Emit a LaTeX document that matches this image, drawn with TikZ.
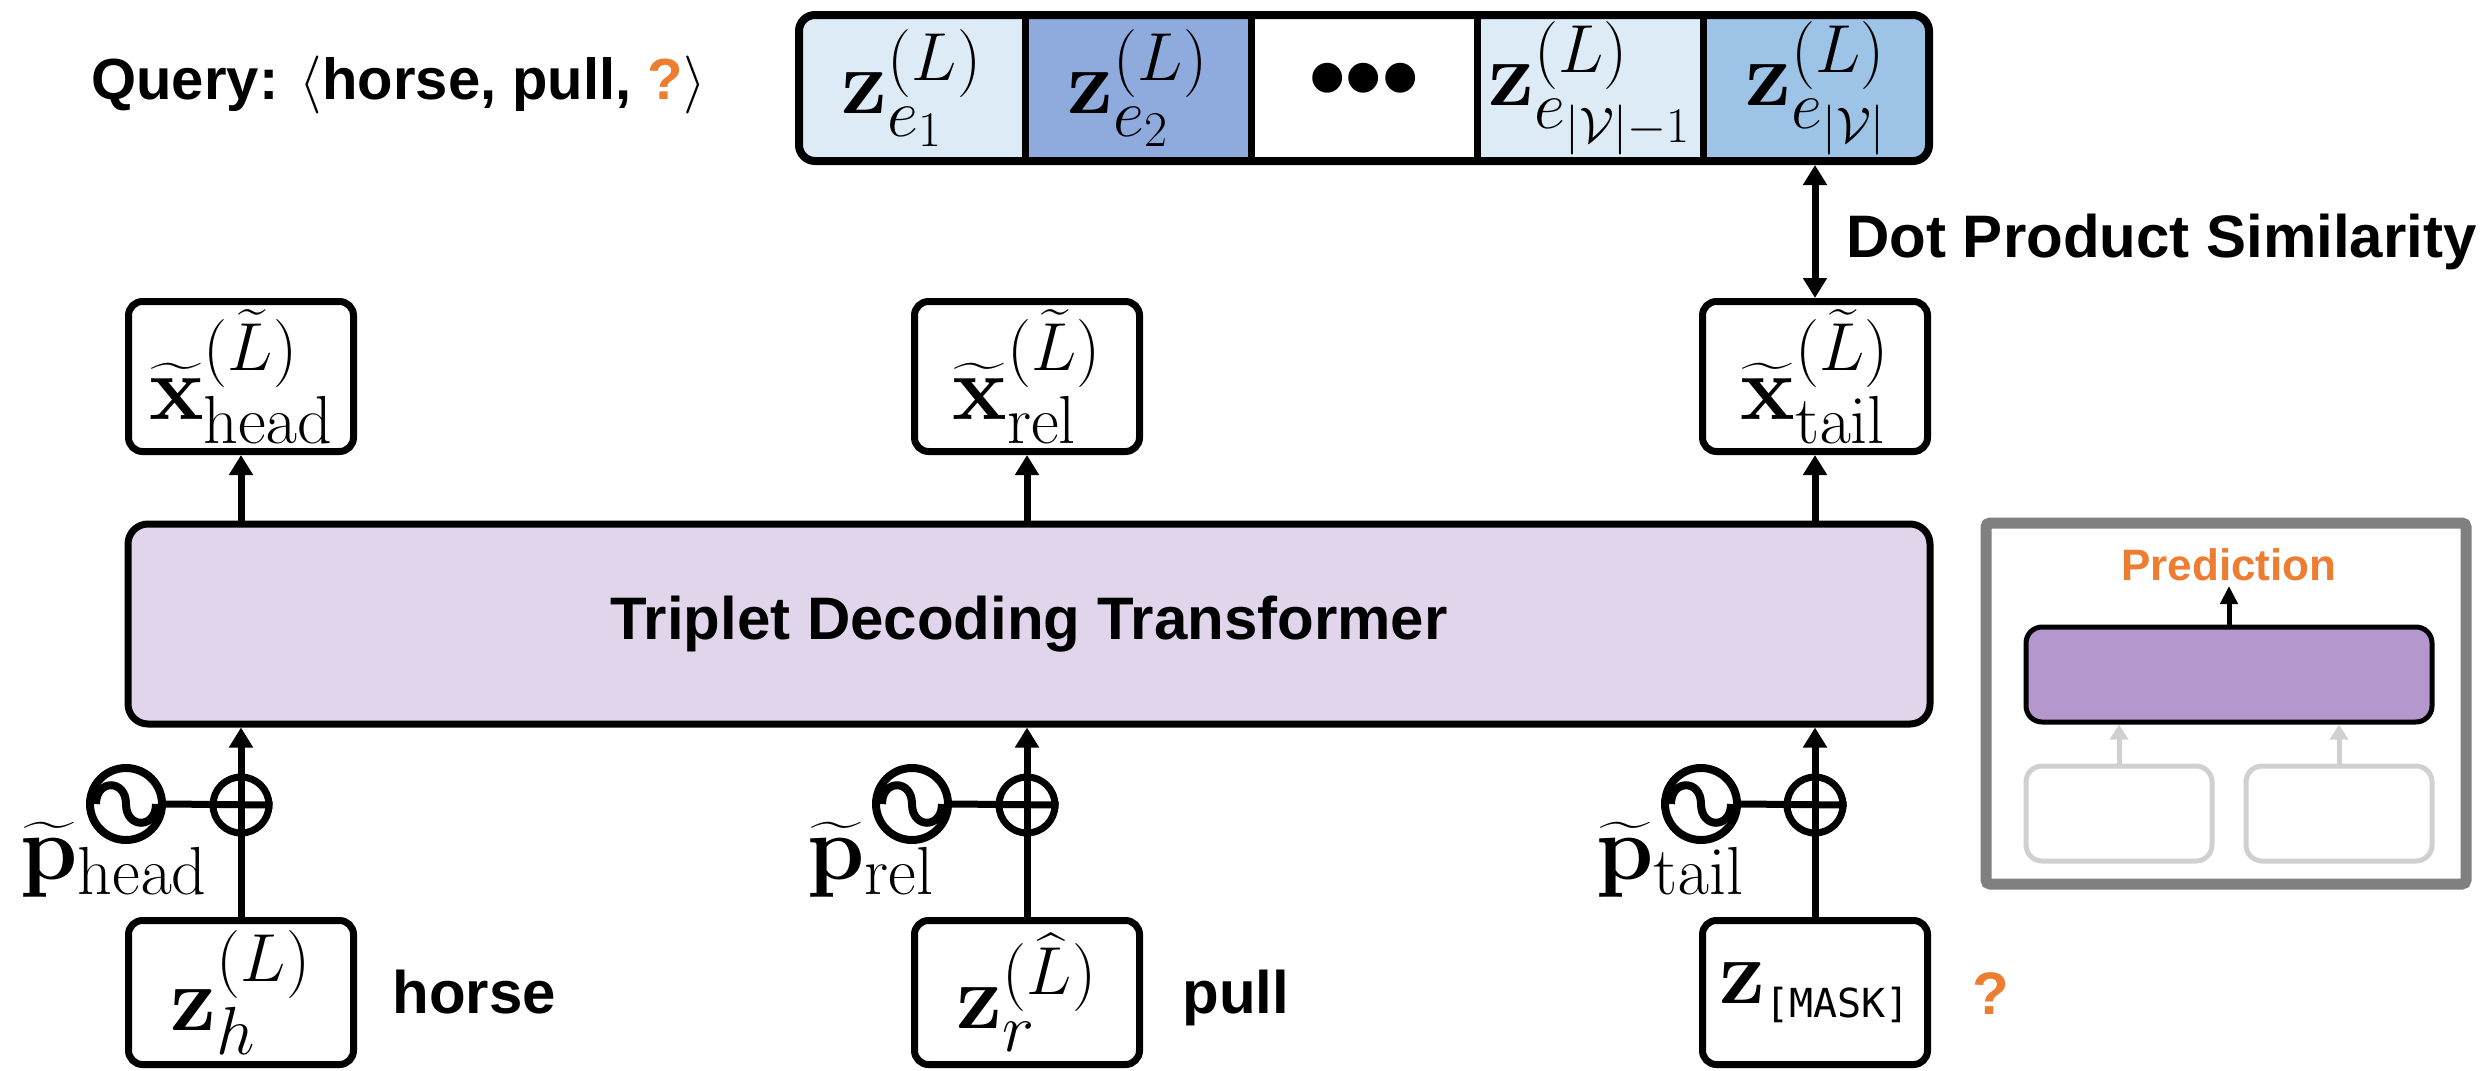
\RequirePackage{fix-cm}
\documentclass[tikz,border=0pt]{standalone}
\usepackage{amsmath}
\usepackage[no-math]{fontspec}
\newfontfamily\lab{Liberation Sans}
\newfontfamily\mono{DejaVu Sans Mono}
\usetikzlibrary{arrows.meta}
\DeclareMathSizes{46}{46}{34}{25}
\definecolor{lav}{HTML}{E1D5EB}
\definecolor{purp}{HTML}{B497CD}
\definecolor{lb}{HTML}{DDEBF7}
\definecolor{mb}{HTML}{8FAADC}
\definecolor{sb}{HTML}{9DC3E6}
\definecolor{org}{HTML}{ED7D31}
\definecolor{gframe}{HTML}{808080}
\definecolor{glight}{HTML}{D0D0D0}
\newcommand{\mfont}{\fontsize{46}{54}\selectfont}
\newcommand{\lfont}{\lab\bfseries\fontsize{30}{36}\selectfont}
\begin{document}
\begin{tikzpicture}[x=0.5pt,y=-0.5pt,
  box/.style={draw, line width=3.5pt, rounded corners=7pt, minimum width=112.5pt, inner sep=0pt, font=\mfont},
  cell/.style={minimum width=113pt, minimum height=73pt, inner sep=0pt, font=\mfont},
  arr/.style={line width=3.5pt, -{Triangle[length=10pt,width=11.5pt]}},
  plusc/.style={circle, draw, line width=3.5pt, minimum size=28pt, inner sep=0pt},
  sinec/.style={circle, draw, line width=4pt, minimum size=36pt, inner sep=0pt},
  lbl/.style={anchor=base west, font=\lfont},
  plbl/.style={anchor=base west, font=\mfont, inner sep=0pt},
  smallbox/.style={draw=glight, line width=2.5pt, rounded corners=8pt, minimum width=93pt, minimum height=47.5pt, inner sep=0pt},
  garr/.style={glight, line width=2.5pt, -{Triangle[length=7.5pt,width=9pt]}}
]
\useasboundingbox (0,0) rectangle (2486,1071);

% query
\node[anchor=base west, inner sep=0pt, font=\lab\bfseries\fontsize{29}{34}\selectfont] (query) at (91,99)
  {Query: $\langle$horse, pull, \textcolor{org}{?}$\rangle$};

% top bar
\begin{scope}
\clip[rounded corners=8pt] (799,15) rectangle (1929,161);
\fill[lb] (799,15) rectangle (1025,161);
\fill[mb] (1025,15) rectangle (1251,161);
\fill[white] (1251,15) rectangle (1477,161);
\fill[lb] (1477,15) rectangle (1703,161);
\fill[sb] (1703,15) rectangle (1929,161);
\end{scope}
\node[cell] (c1) at (912,88) {$\mathbf{z}^{(L)}_{e_1}$};
\node[cell] (c2) at (1138,88) {$\mathbf{z}^{(L)}_{e_2}$};
\node[cell, font=\lab\bfseries\fontsize{52}{52}\selectfont] (c3) at (1364,88) {•••};
\node[cell] (c4) at (1590,88) {$\mathbf{z}^{(L)}_{e_{|\mathcal{V}|-1}}$};
\node[cell] (c5) at (1816,88) {$\mathbf{z}^{(L)}_{e_{|\mathcal{V}|}}$};
\foreach \c in {c1,c2,c3,c4}
  \draw[line width=3.5pt] (\c.north east) -- (\c.south east);
\node[draw, line width=4pt, rounded corners=8pt, minimum width=565pt, minimum height=73pt, inner sep=0pt] (bar) at (1364,88) {};

% x tilde boxes
\node[box, minimum height=75pt] (xh) at (241,376.5) {$\widetilde{\mathbf{x}}^{(\widetilde{L})}_{\mathrm{head}}$};
\node[box, minimum height=75pt] (xr) at (1027,376.5) {$\widetilde{\mathbf{x}}^{(\widetilde{L})}_{\mathrm{rel}}$};
\node[box, minimum height=75pt] (xt) at (1815,376.5) {$\widetilde{\mathbf{x}}^{(\widetilde{L})}_{\mathrm{tail}}$};

% dot product
\draw[line width=3.5pt, {Triangle[length=10pt,width=11.5pt]}-{Triangle[length=10pt,width=11.5pt]}] (bar.south -| xt.north) -- (xt.north);
\node[lbl, inner sep=0pt] (dps) at (1846,257) {Dot Product Similarity};

% transformer
\node[draw, line width=3.5pt, rounded corners=10pt, fill=lav, minimum width=901pt, minimum height=100pt, inner sep=0pt, font=\lfont] (trans) at (1029,624) {Triplet Decoding Transformer};

\foreach \b in {xh,xr,xt}
  \draw[arr] (trans.north -| \b.south) -- (\b.south);

% z boxes
\node[box, minimum height=72pt] (zh) at (241,992.5) {$\mathbf{z}^{(L)}_{h}$};
\node[box, minimum height=72pt] (zr) at (1027,992.5) {$\mathbf{z}^{(\widehat{L})}_{r}$};
\node[box, minimum height=72pt] (zt) at (1815,992.5) {$\mathbf{z}_{\mbox{\mono\fontsize{20}{20}\selectfont[MASK]}}$};

\foreach \b in {zh,zr,zt}
  \draw[arr] (\b.north) -- (\b.north |- trans.south);

% plus and sine
\foreach \n/\px/\sx in {h/241/126, r/1027/912, t/1815/1701}{
  \node[plusc] (p\n) at (\px,805) {};
  \node[sinec] (s\n) at (\sx,804) {};
  \draw[line width=3.5pt] (s\n.east) -- (p\n.east);
  \draw[line width=4pt] ([xshift=-15pt]s\n.center) .. controls ([xshift=-15pt,yshift=12.5pt]s\n.center) and ([yshift=12.5pt]s\n.center) .. (s\n.center)
     .. controls ([yshift=-12.5pt]s\n.center) and ([xshift=15pt,yshift=-12.5pt]s\n.center) .. ([xshift=15pt]s\n.center);
}
\node[plbl] (plh) at (20,879) {$\widetilde{\mathbf{p}}_{\mathrm{head}}$};
\node[plbl] (plr) at (807,879) {$\widetilde{\mathbf{p}}_{\mathrm{rel}}$};
\node[plbl] (plt) at (1596,879) {$\widetilde{\mathbf{p}}_{\mathrm{tail}}$};

% word labels
\node[lbl, inner sep=0pt] (wh) at (392,1013) {horse};
\node[lbl, inner sep=0pt] (wr) at (1182,1013) {pull};
\node[lbl, inner sep=0pt, text=org] (wt) at (1972,1014) {?};

% inset
\node[draw=gframe, line width=5.5pt, rounded corners=2pt, minimum width=240pt, minimum height=180.5pt, inner sep=0pt] (inset) at (2226,703.5) {};
\node[draw, line width=2.5pt, fill=purp, rounded corners=8pt, minimum width=203pt, minimum height=47.5pt, inner sep=0pt] (pb) at (2229,674.5) {};
\node[smallbox] (g1) at (2119,813.5) {};
\node[smallbox] (g2) at (2339,813.5) {};
\draw[garr] (g1.north) -- (g1.north |- pb.south);
\draw[garr] (g2.north) -- (g2.north |- pb.south);
\node[anchor=base, inner sep=0pt, font=\lab\bfseries\fontsize{22}{26}\selectfont, text=org] (pred) at (2229,580) {Prediction};
\coordinate (predtip) at (2229,586);
\draw[line width=2.5pt, -{Triangle[length=9pt,width=8.5pt]}] (pb.north) -- (predtip);
\end{tikzpicture}
\end{document}
